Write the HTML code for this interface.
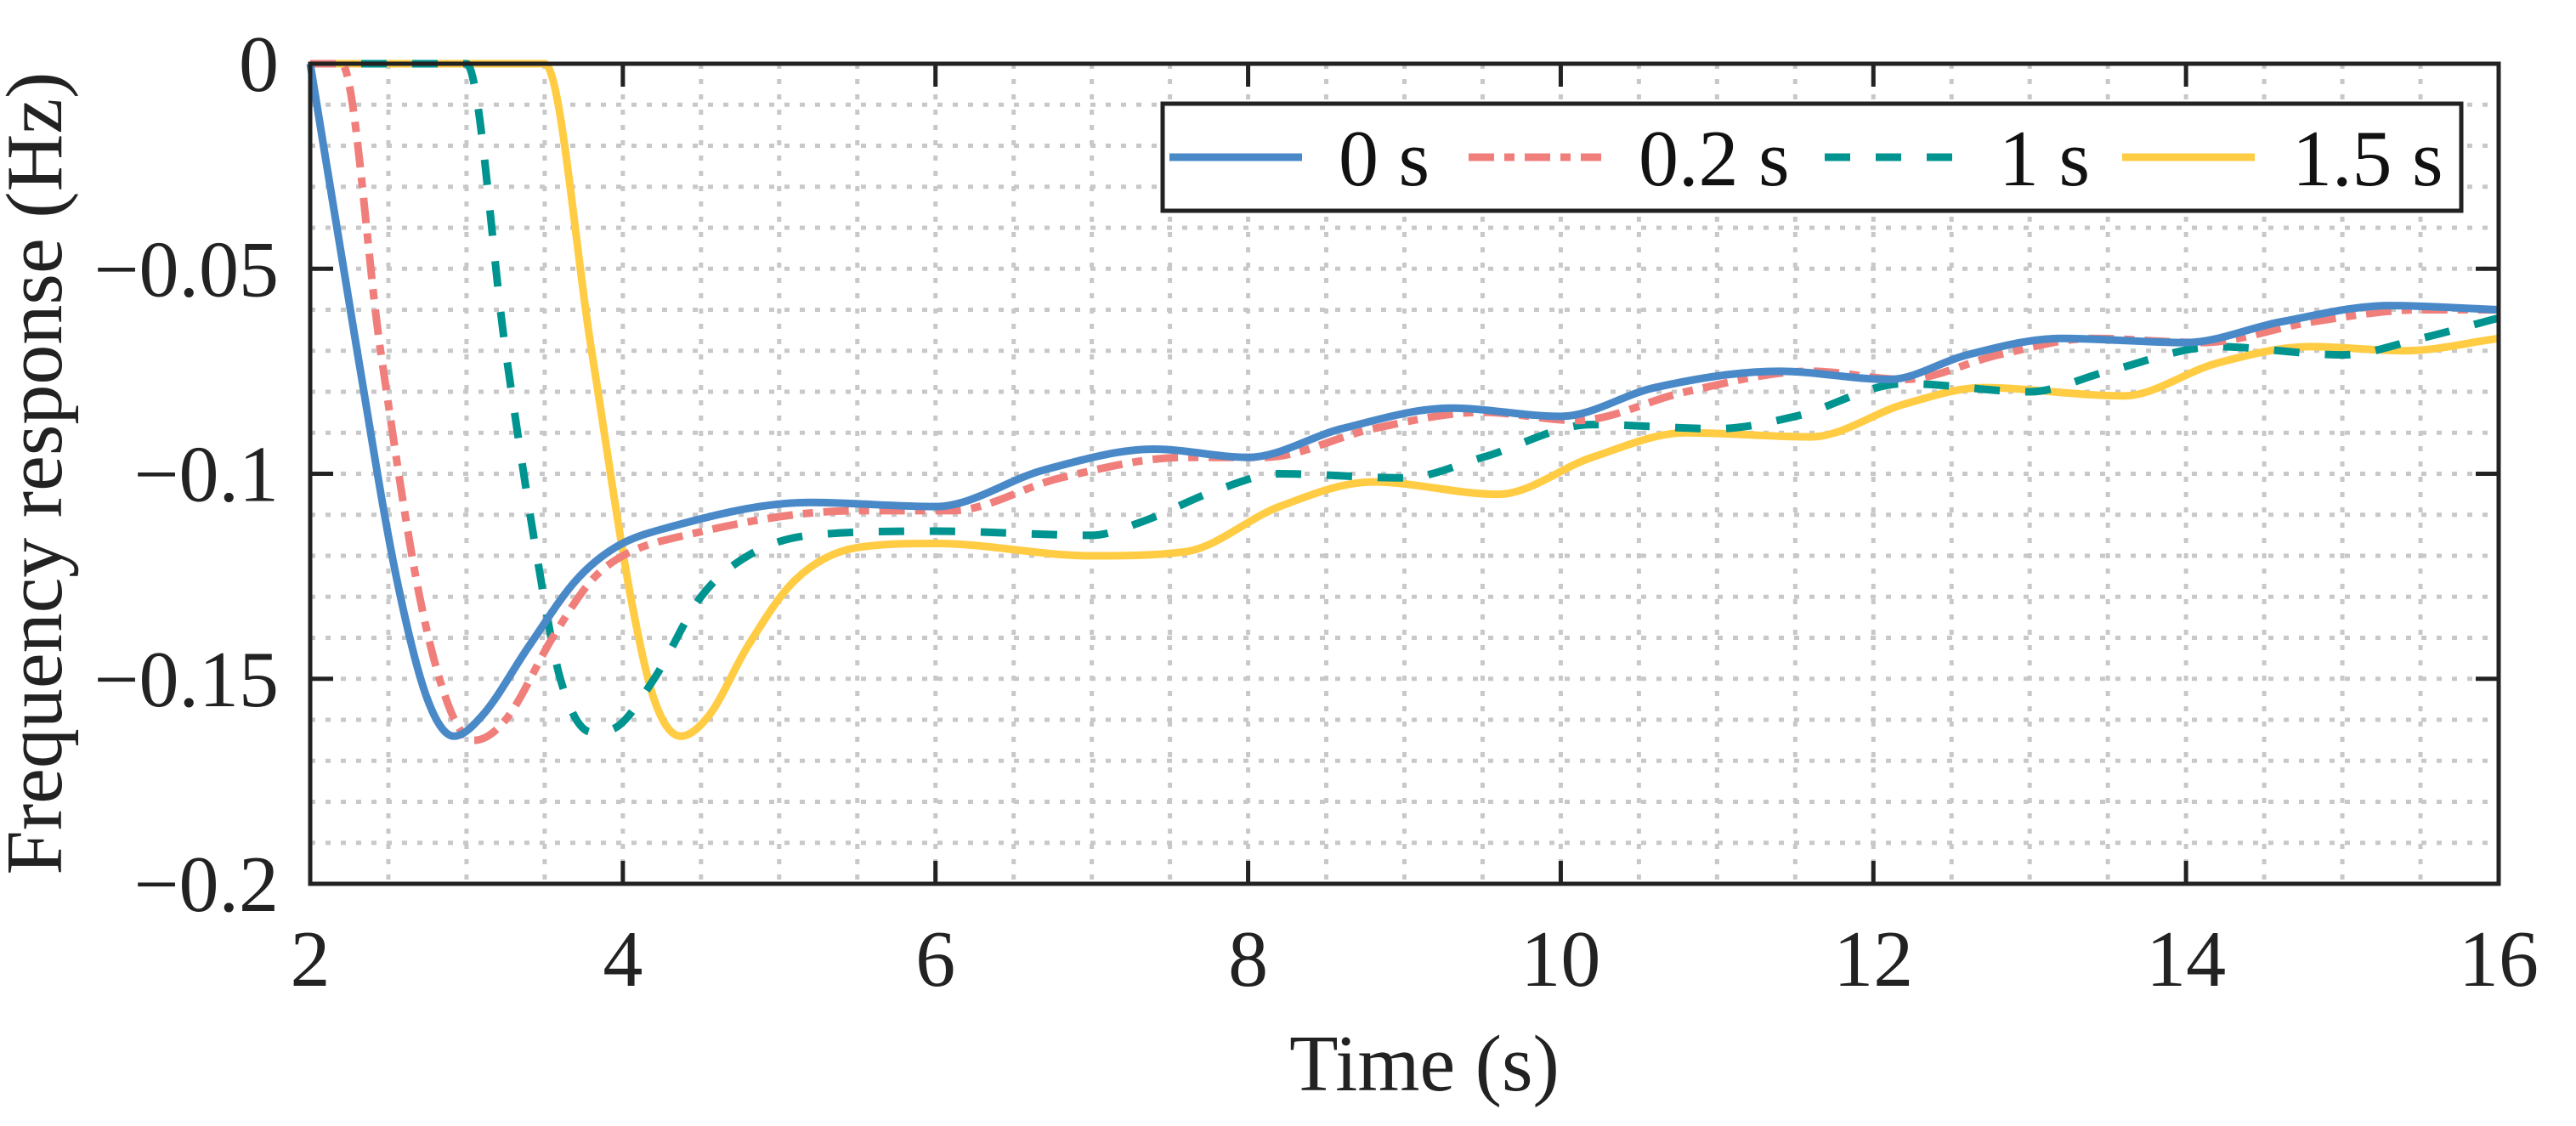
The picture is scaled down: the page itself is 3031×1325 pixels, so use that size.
<!DOCTYPE html>
<html><head><meta charset="utf-8"><style>
html,body{margin:0;padding:0;background:#fff;}
svg{display:block;font-family:"Liberation Serif",serif;}
</style></head><body>
<svg id="chart" width="3031" height="1325" viewBox="0 0 3031 1325" xmlns="http://www.w3.org/2000/svg">
<g id="grid"></g>
<g id="series"></g>
<g id="axes"></g>
<text x="1676" y="1283" font-size="94" text-anchor="middle" fill="#222">Time (s)</text>
<text x="0" y="0" font-size="94" text-anchor="middle" fill="#222" transform="translate(72,557) rotate(-90)">Frequency response (Hz)</text>
<g>
<rect x="1368" y="122" width="1528" height="126" fill="#fff" stroke="#222" stroke-width="5"/>
<g id="legend-items"></g>
</g>
</svg>
<script>
const xTicks=[2,4,6,8,10,12,14,16];
const yTicks=[0,-0.05,-0.1,-0.15,-0.2];
const yTickLabels=["0","\u22120.05","\u22120.1","\u22120.15","\u22120.2"];
const seriesNames=["0 s","0.2 s","1 s","1.5 s"];
const t0=[2,2.3,2.55,2.75,2.92,3.1,3.4,3.7,3.95,4.3,5.2,6.0,6.7,7.4,8.0,8.6,9.3,10,10.6,11.4,12.1,12.6,13.2,14,14.6,15.3,16];
const v0=[0,-0.07,-0.125,-0.155,-0.164,-0.159,-0.142,-0.126,-0.118,-0.113,-0.107,-0.108,-0.099,-0.094,-0.096,-0.089,-0.084,-0.086,-0.079,-0.075,-0.077,-0.071,-0.067,-0.068,-0.063,-0.059,-0.060];
const t1=[2,2.2,2.45,2.7,2.9,3.05,3.25,3.55,3.8,4.0,4.4,5.5,6.1,6.8,7.6,8.1,8.8,9.5,10.1,10.8,11.6,12.2,12.8,13.4,14.1,14.8,15.5,16];
const v1=[0,0,-0.07,-0.13,-0.158,-0.165,-0.16,-0.14,-0.126,-0.120,-0.115,-0.109,-0.109,-0.101,-0.096,-0.096,-0.089,-0.085,-0.087,-0.080,-0.075,-0.077,-0.071,-0.067,-0.068,-0.063,-0.060,-0.060];
const t2=[2,3,3.25,3.45,3.6,3.8,3.95,4.2,4.5,4.8,5.2,6,7,7.3,7.8,8.2,9,9.5,10.2,11,11.5,12.2,13,13.5,14.2,15,15.5,16];
const v2=[0,0,-0.07,-0.12,-0.15,-0.163,-0.162,-0.15,-0.13,-0.12,-0.115,-0.114,-0.115,-0.112,-0.104,-0.100,-0.101,-0.096,-0.088,-0.089,-0.086,-0.078,-0.080,-0.075,-0.069,-0.071,-0.067,-0.062];
const t3=[2,3.5,3.8,4.05,4.2,4.37,4.55,4.8,5.1,5.5,6,7,7.6,8.2,8.8,9.6,10.2,10.8,11.6,12.2,12.7,13.6,14.2,14.8,15.4,16];
const v3=[0,0,-0.07,-0.13,-0.155,-0.164,-0.159,-0.142,-0.126,-0.118,-0.117,-0.120,-0.119,-0.108,-0.102,-0.105,-0.096,-0.090,-0.091,-0.083,-0.079,-0.081,-0.073,-0.069,-0.070,-0.067];

const X0=365,X1=2940,Y0=75,Y1=1040;
const xs=t=>X0+(t-2)/(16-2)*(X1-X0);
const ys=v=>Y0+(0-v)/(0.2)*(Y1-Y0);
const NS="http://www.w3.org/2000/svg";
function mk(tag,attrs,parent){const e=document.createElementNS(NS,tag);for(const k in attrs)e.setAttribute(k,attrs[k]);parent.appendChild(e);return e;}
const grid=document.getElementById('grid'),axes=document.getElementById('axes'),ser=document.getElementById('series');
for(let i=0;i<=28;i++){const t=2+i*0.5;const x=xs(t);
 const l=mk('line',{x1:x,y1:Y0,x2:x,y2:Y1,stroke:'#c8c8c8','stroke-width':5,'stroke-dasharray':'6 12'},grid);
 
 }
for(let i=0;i<=20;i++){const v=-i*0.01;const y=ys(v);
 const l=mk('line',{x1:X0,y1:y,x2:X1,y2:y,stroke:'#c8c8c8','stroke-width':5,'stroke-dasharray':'6 12'},grid);
 
 }
function pathD(T,V){const n=T.length,x=T.map(xs),y=V.map(ys);const d=[],m=[];
 for(let i=0;i<n-1;i++)d.push((y[i+1]-y[i])/(x[i+1]-x[i]));
 m[0]=d[0];m[n-1]=d[n-2];
 for(let i=1;i<n-1;i++){m[i]=(d[i-1]*d[i]<=0)?0:(d[i-1]+d[i])/2;}
 for(let i=0;i<n-1;i++){if(d[i]===0){m[i]=0;m[i+1]=0;continue;}const a=m[i]/d[i],b=m[i+1]/d[i],s=a*a+b*b;if(s>9){const tt=3/Math.sqrt(s);m[i]=tt*a*d[i];m[i+1]=tt*b*d[i];}}
 let p='M'+x[0]+','+y[0];
 for(let i=0;i<n-1;i++){const h=(x[i+1]-x[i])/3;p+=' C'+(x[i]+h)+','+(y[i]+m[i]*h)+' '+(x[i+1]-h)+','+(y[i+1]-m[i+1]*h)+' '+x[i+1]+','+y[i+1];}
 return p;}
const styles=[{c:'#4a89c8',d:''},{c:'#f07f7b',d:'30 12 12 12'},{c:'#009490',d:'30 30'},{c:'#ffcc44',d:''}];
const data=[[t0,v0],[t1,v1],[t2,v2],[t3,v3]];
const names=['series-0s','series-0-2s','series-1s','series-1-5s'];
[3,2,1,0].forEach(k=>{const p=mk('path',{d:pathD(data[k][0],data[k][1]),fill:'none',stroke:styles[k].c,'stroke-width':9,'stroke-dasharray':styles[k].d,'stroke-linejoin':'round'},ser);
 
 });
const fr=mk('rect',{x:X0,y:Y0,width:X1-X0,height:Y1-Y0,fill:'none',stroke:'#222','stroke-width':5},axes);


xTicks.forEach(t=>{const x=xs(t);
 mk('line',{x1:x,y1:Y1,x2:x,y2:Y1-27,stroke:'#222','stroke-width':5},axes);
 mk('line',{x1:x,y1:Y0,x2:x,y2:Y0+27,stroke:'#222','stroke-width':5},axes);
 const tx=mk('text',{x:x,y:1160,'font-size':94,'text-anchor':'middle',fill:'#222'},axes);tx.textContent=String(t);
 
 });
yTicks.forEach((v,i)=>{const y=ys(v);
 mk('line',{x1:X0,y1:y,x2:X0+27,y2:y,stroke:'#222','stroke-width':5},axes);
 mk('line',{x1:X1,y1:y,x2:X1-27,y2:y,stroke:'#222','stroke-width':5},axes);
 const tx=mk('text',{x:328,y:y+32,'font-size':94,'text-anchor':'end',fill:'#222'},axes);tx.textContent=yTickLabels[i];
 
 });
const lg=document.getElementById('legend-items');
const lx=[1376,1728,2147,2497],tx=[1575,1928,2352,2697];
seriesNames.forEach((nm,k)=>{const y=185;
 const l=mk('line',{x1:lx[k],y1:y,x2:lx[k]+156,y2:y,stroke:styles[k].c,'stroke-width':9,'stroke-dasharray':styles[k].d},lg);
 
 
 const t=mk('text',{x:tx[k],y:y+33,'font-size':94,fill:'#111'},lg);t.textContent=nm;
 
 });
</script>
</body></html>
